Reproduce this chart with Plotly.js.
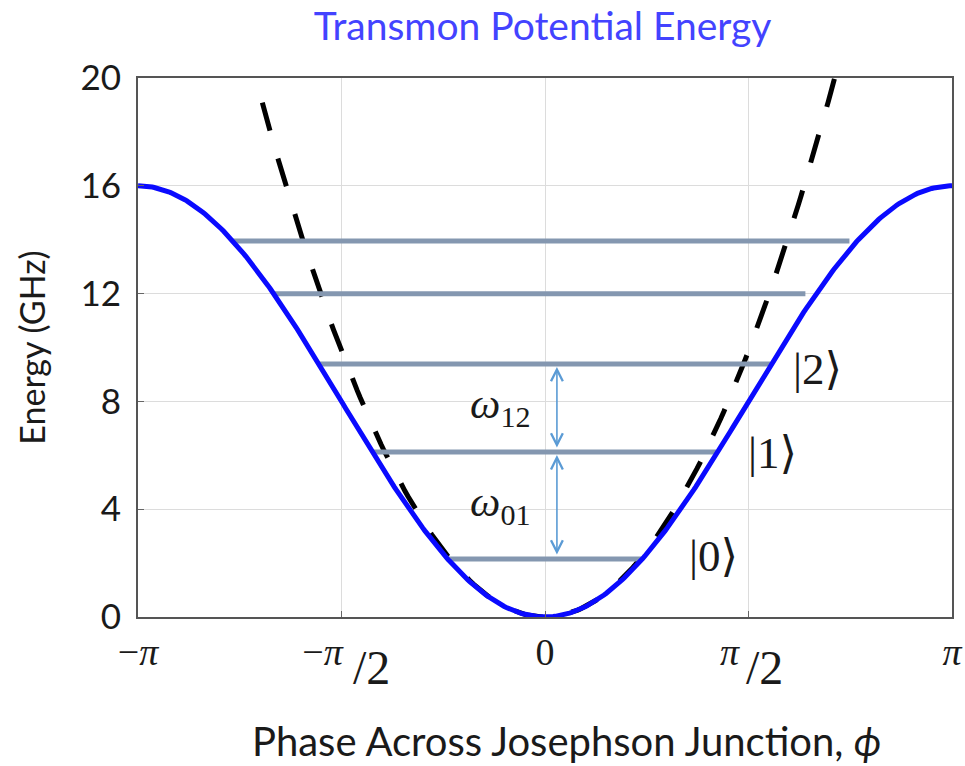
<!DOCTYPE html>
<html>
<head>
<meta charset="utf-8">
<script src="https://cdn.plot.ly/plotly-3.0.1.min.js"></script>
<style>
  html, body { margin: 0; padding: 0; background: #ffffff; }
  #chart { width: 965px; height: 766px; }
</style>
</head>
<body>
<div id="chart"></div>
<script>
// Transmon: cosine potential E(phi) = wellDepth/2 * (1 - cos phi), harmonic approximation dashed
const wellDepth = 16;          // GHz, value of the potential at phi = ±pi
const harmonicCoef = 4;        // GHz / rad^2, quadratic approximation near the minimum
const harmonicSpan = 2.3;      // rad, extent of the dashed parabola on each side

// Energy levels (GHz) and where each horizontal bar starts/ends (rad)
const levelEnergy = [2.15, 6.12, 9.39, 11.99, 13.95];
const levelLeft   = [-0.76, -1.33, -1.745, -2.094, -2.41];
const levelRight  = [0.75, 1.32, 1.74, 2.01, 2.35];

// State labels
const ketText = ['|0\u27e9', '|1\u27e9', '|2\u27e9'];
const ketX    = [1.30, 1.755, 2.10];
const ketY    = [2.25, 6.10, 9.20];

// Transition arrows between neighbouring levels
const arrowX     = 0.092;
const arrowFrom  = [2.15, 6.12];
const arrowTo    = [6.12, 9.39];
const omegaText  = ['<i>\u03c9</i><sub>01</sub>', '<i>\u03c9</i><sub>12</sub>'];
const omegaX     = [-0.35, -0.35];
const omegaY     = [4.15, 7.8];

// Axis ticks
const xTickVals = [-Math.PI, -Math.PI / 2, 0, Math.PI / 2, Math.PI];
const xTickText = ['\u2212<i>\u03c0</i>', '\u2212<i>\u03c0</i>\u2003', '0', '<i>\u03c0</i>\u2003', '<i>\u03c0</i>'];
const halfTickVals = [-Math.PI / 2, Math.PI / 2];
const yTickVals = [0, 4, 8, 12, 16, 20];

// sample the curves
const nPts = 401;
const phi = [], potential = [];
for (let i = 0; i < nPts; i++) {
  const p = -Math.PI + 2 * Math.PI * i / (nPts - 1);
  phi.push(p);
  potential.push(wellDepth / 2 * (1 - Math.cos(p)));
}
const hPhi = [], hE = [];
for (let i = 0; i < 201; i++) {
  const p = -harmonicSpan + 2 * harmonicSpan * i / 200;
  hPhi.push(p);
  hE.push(harmonicCoef * p * p);
}

const levelX = [], levelY = [];
levelEnergy.forEach((e, i) => {
  levelX.push(levelLeft[i], levelRight[i], null);
  levelY.push(e, e, null);
});

const traces = [
  { x: hPhi, y: hE, mode: 'lines', hoverinfo: 'skip',
    line: { color: '#000000', width: 5, dash: '29px,29px' } },
  { x: levelX, y: levelY, mode: 'lines', hoverinfo: 'skip',
    line: { color: '#8497b0', width: 5 } },
  { x: phi, y: potential, mode: 'lines', hoverinfo: 'skip',
    line: { color: '#0a0aff', width: 5 } }
];

const serif = 'Liberation Serif, DejaVu Serif, serif';
const sans = 'Lato, Open Sans, sans-serif';
const annotations = [];

ketText.forEach((t, i) => annotations.push({
  x: ketX[i], y: ketY[i], xref: 'x', yref: 'y', text: t, showarrow: false,
  xanchor: 'center', yanchor: 'middle',
  font: { family: serif, size: 45, color: '#1a1a1a' }
}));

omegaText.forEach((t, i) => annotations.push({
  x: omegaX[i], y: omegaY[i], xref: 'x', yref: 'y', text: t, showarrow: false,
  xanchor: 'center', yanchor: 'middle',
  font: { family: serif, size: 43, color: '#1a1a1a' }
}));

arrowFrom.forEach((a, i) => annotations.push({
  x: arrowX, y: arrowTo[i], ax: arrowX, ay: a, xref: 'x', yref: 'y', axref: 'x', ayref: 'y',
  text: '', showarrow: true, arrowside: 'end+start', arrowhead: 5, startarrowhead: 5,
  arrowsize: 1.45, startarrowsize: 1.45, arrowwidth: 1.6, arrowcolor: '#5b9bd5',
  standoff: 3, startstandoff: 3
}));

// denominators of the half-pi tick labels
halfTickVals.forEach(v => annotations.push({
  x: v, y: -0.094, xref: 'x', yref: 'paper', text: '/2', showarrow: false,
  xanchor: 'left', yanchor: 'middle', xshift: v < 0 ? 9 : -5,
  font: { family: serif, size: 48, color: '#1a1a1a' }
}));

// horizontal axis title
annotations.push({
  x: 0.526, y: -0.23, xref: 'paper', yref: 'paper', showarrow: false,
  xanchor: 'center', yanchor: 'middle',
  text: 'Phase Across Josephson Junction, <i>\u03d5</i>',
  font: { family: sans, size: 40, color: '#1a1a1a' }
});

const layout = {
  width: 965, height: 766,
  margin: { l: 138, r: 13, t: 78, b: 149 },
  paper_bgcolor: '#ffffff', plot_bgcolor: '#ffffff',
  showlegend: false,
  title: {
    text: 'Transmon Potential Energy',
    font: { family: sans, size: 39, color: '#4343ff' },
    x: 0.497, xref: 'paper', xanchor: 'center', y: 0.965, yref: 'container', yanchor: 'middle'
  },
  xaxis: {
    range: [-Math.PI * 1.00002, Math.PI * 1.00002], tickmode: 'array', tickvals: xTickVals, ticktext: xTickText,
    tickfont: { family: serif, size: 38, color: '#1a1a1a' },
    ticklabeloverflow: 'allow',
    ticks: 'inside', ticklen: 6, tickwidth: 1, tickcolor: '#666666',
    showgrid: true, gridcolor: '#dcdcdc', gridwidth: 1, zeroline: false,
    showline: true, linecolor: '#555555', linewidth: 2, mirror: true
  },
  yaxis: {
    range: [0, 20], tickmode: 'array', tickvals: yTickVals,
    tickfont: { family: sans, size: 35, color: '#1a1a1a' },
    ticks: 'inside', ticklen: 6, tickwidth: 1, tickcolor: '#666666',
    showgrid: true, gridcolor: '#dcdcdc', gridwidth: 1, zeroline: false,
    showline: true, linecolor: '#555555', linewidth: 2, mirror: true,
    ticklabelstandoff: 8,
    title: { text: 'Energy (GHz)',
             font: { family: sans, size: 34, color: '#1a1a1a' }, standoff: 24 }
  },
  annotations: annotations
};

Plotly.newPlot('chart', traces, layout, { staticPlot: true, displayModeBar: false });
</script>
</body>
</html>
